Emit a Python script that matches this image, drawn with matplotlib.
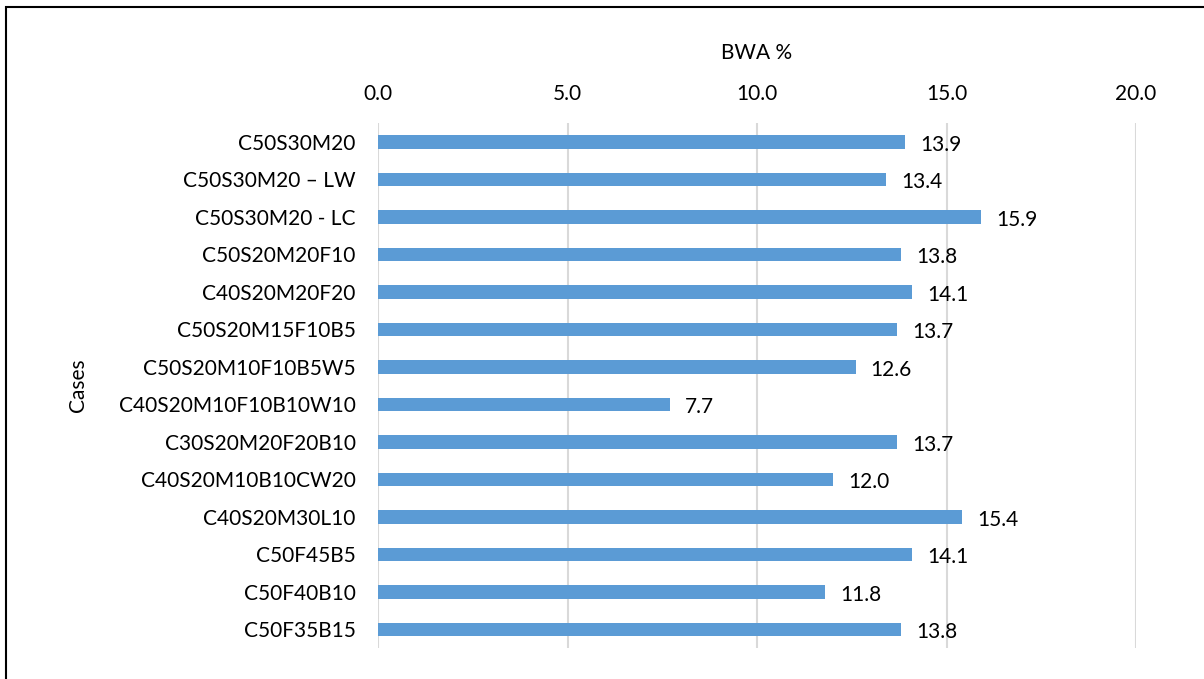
import matplotlib.pyplot as plt
from matplotlib.patches import Rectangle

cases = ['C50S30M20', 'C50S30M20 – LW', 'C50S30M20 - LC', 'C50S20M20F10',
         'C40S20M20F20', 'C50S20M15F10B5', 'C50S20M10F10B5W5',
         'C40S20M10F10B10W10', 'C30S20M20F20B10', 'C40S20M10B10CW20',
         'C40S20M30L10', 'C50F45B5', 'C50F40B10', 'C50F35B15']
bwa = [13.9, 13.4, 15.9, 13.8, 14.1, 13.7, 12.6, 7.7, 13.7, 12.0, 15.4,
       14.1, 11.8, 13.8]
ticks = [0, 5, 10, 15, 20]

plt.rcParams['font.family'] = ['Lato', 'DejaVu Sans']
fs = 15

fig = plt.figure(figsize=(12.04, 6.79), dpi=100)
ax = fig.add_axes([378 / 1204, 1 - 648 / 679, 758 / 1204, 525 / 679])

y = list(range(len(cases)))
ax.barh(y, bwa, height=0.36, color='#5B9BD5', zorder=3)
for yi, v in zip(y, bwa):
    ax.text(v + 0.4, yi + 0.08, f'{v:.1f}', va='center', ha='left',
            fontsize=fs, color='#000000')

ax.set_xlim(0, 20)
ax.set_ylim(len(cases) - 0.5, -0.5)
ax.set_yticks(y)
ax.set_yticklabels(cases, fontsize=fs)
ax.set_xticks(ticks)
ax.set_xticklabels([f'{t:.1f}' for t in ticks], fontsize=fs)
ax.xaxis.tick_top()
ax.xaxis.set_label_position('top')
ax.set_xlabel('BWA %', fontsize=fs, labelpad=18)
ax.set_ylabel('Cases', fontsize=fs)
ax.yaxis.set_label_coords(-0.383, 0.5)
ax.tick_params(length=0, pad=14)
ax.tick_params(axis='y', pad=16)
ax.grid(axis='x', color='#D9D9D9', linewidth=1.5, zorder=0)
for s in ax.spines.values():
    s.set_visible(False)

# рамка вокруг рисунка
fig.patches.append(Rectangle((6 / 1204, -0.05), 1.1, 1 - 7 / 679 + 0.05,
                             transform=fig.transFigure, fill=False,
                             edgecolor='black', linewidth=1.5))

fig.savefig('out.png', dpi=100)
